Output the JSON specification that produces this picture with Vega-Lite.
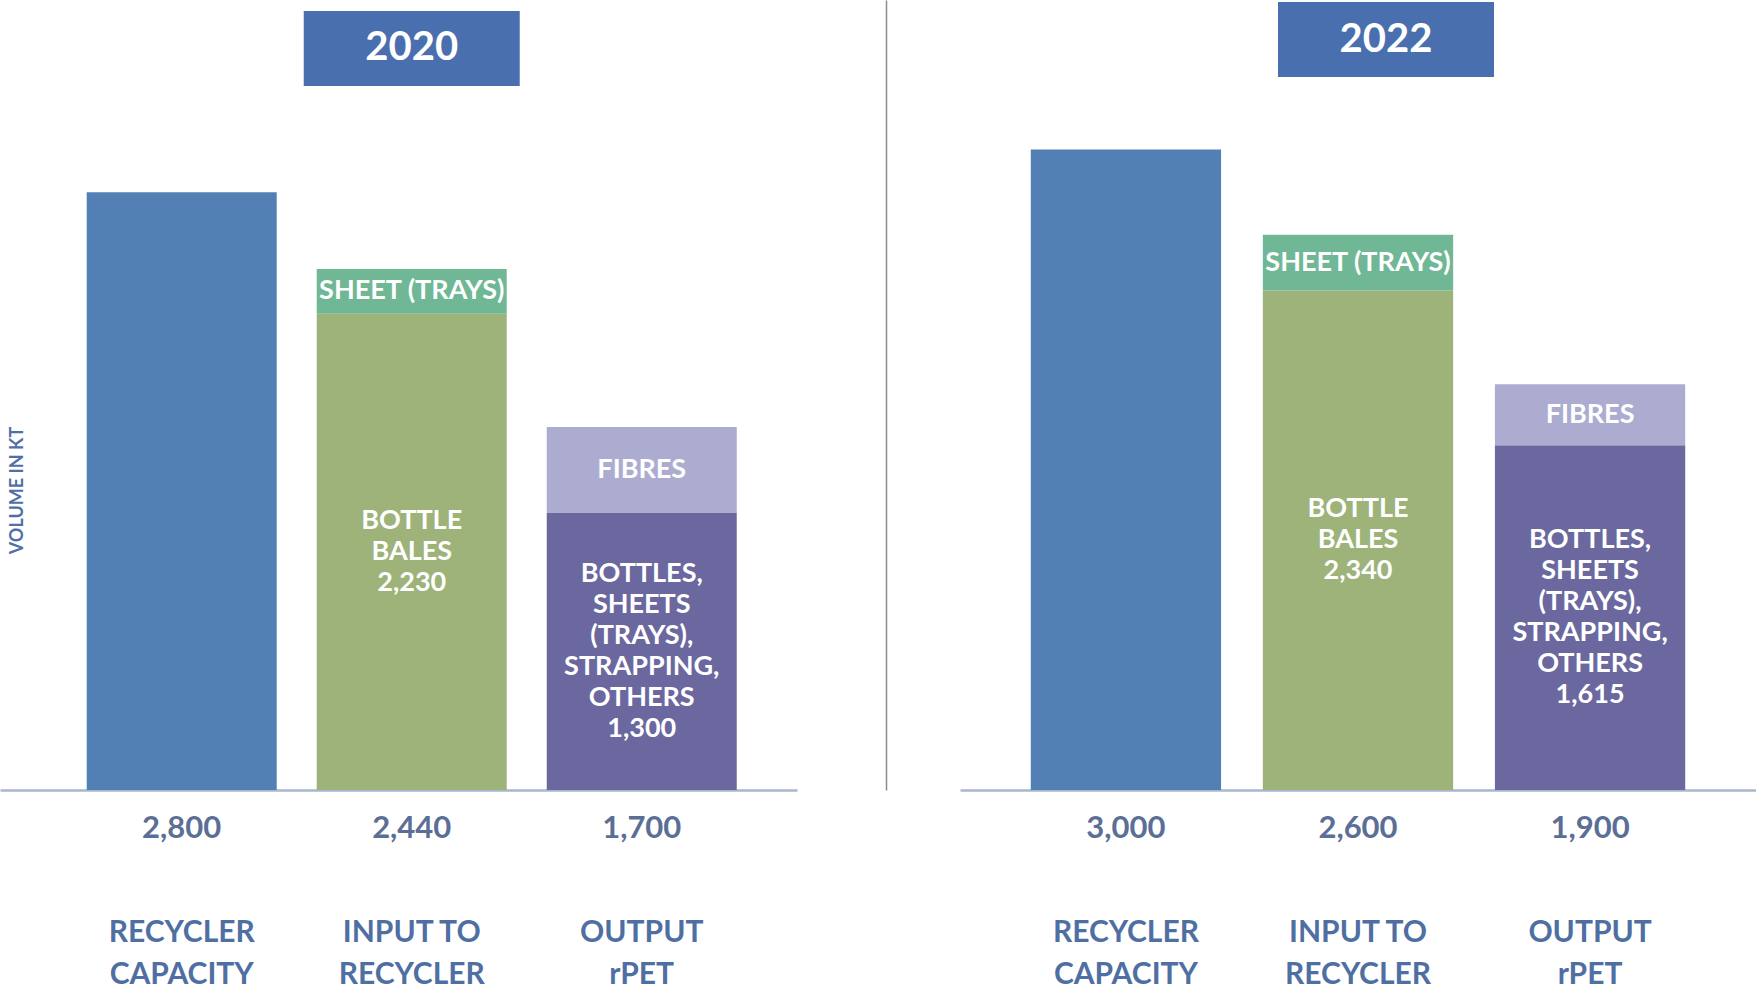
{
  "$schema": "https://vega.github.io/schema/vega-lite/v6.json",
  "background": "white",
  "padding": 0,
  "bounds": "flush",
  "spacing": 163,
  "config": {"view": {"stroke": null}, "font": "Lato", "axis": {"grid": false}},
  "datasets": {
    "pet": [
      {"year": 2020, "category": "RECYCLER CAPACITY", "segment": "Capacity", "value": 2800, "label": ""},
      {"year": 2020, "category": "INPUT TO RECYCLER", "segment": "Bottle bales", "value": 2230, "label": "BOTTLE\nBALES\n2,230"},
      {"year": 2020, "category": "INPUT TO RECYCLER", "segment": "Sheet (trays)", "value": 210, "label": "SHEET (TRAYS)"},
      {"year": 2020, "category": "OUTPUT rPET", "segment": "Bottles, sheets (trays), strapping, others", "value": 1300, "label": "BOTTLES,\nSHEETS\n(TRAYS),\nSTRAPPING,\nOTHERS\n1,300"},
      {"year": 2020, "category": "OUTPUT rPET", "segment": "Fibres", "value": 400, "label": "FIBRES"},
      {"year": 2022, "category": "RECYCLER CAPACITY", "segment": "Capacity", "value": 3000, "label": ""},
      {"year": 2022, "category": "INPUT TO RECYCLER", "segment": "Bottle bales", "value": 2340, "label": "BOTTLE\nBALES\n2,340"},
      {"year": 2022, "category": "INPUT TO RECYCLER", "segment": "Sheet (trays)", "value": 260, "label": "SHEET (TRAYS)"},
      {"year": 2022, "category": "OUTPUT rPET", "segment": "Bottles, sheets (trays), strapping, others", "value": 1615, "label": "BOTTLES,\nSHEETS\n(TRAYS),\nSTRAPPING,\nOTHERS\n1,615"},
      {"year": 2022, "category": "OUTPUT rPET", "segment": "Fibres", "value": 285, "label": "FIBRES"}
    ]
  },
  "hconcat": [
    {
      "width": 797,
      "height": 790,
      "data": {"name": "pet"},
      "transform": [{"filter": "datum.year == 2020"}],
      "encoding": {
        "x": {
          "field": "category", "type": "nominal",
          "sort": ["RECYCLER CAPACITY", "INPUT TO RECYCLER", "OUTPUT rPET"],
          "scale": {"paddingInner": 0.174, "paddingOuter": 0.3195, "align": 0.59},
          "axis": {
            "title": null, "domain": true, "domainColor": "#a7b7cd", "domainWidth": 2.5,
            "ticks": false, "tickSize": 0, "labelPadding": 127, "labelAngle": 0,
            "labelFont": "Lato", "labelFontSize": 30, "labelFontWeight": "bold", "labelColor": "#4f6fa3",
            "labelLineHeight": 42,
            "labelExpr": "datum.label == 'INPUT TO RECYCLER' ? ['INPUT TO', 'RECYCLER'] : split(datum.label, ' ')"
          }
        }
      },
      "layer": [
        {
          "transform": [{"stack": "value", "groupby": ["category"], "sort": [{"field": "segment"}], "as": ["y0", "y1"]}],
          "mark": {"type": "bar"},
          "encoding": {
            "y": {
              "field": "y1", "type": "quantitative",
              "scale": {"domain": [0, 3700], "nice": false, "zero": true},
              "axis": {
                "title": "VOLUME IN KT", "domain": false, "ticks": false, "labels": false, "grid": false,
                "titleX": 17, "titleY": 490, "titleAngle": -90, "titleAlign": "center", "titleBaseline": "middle",
                "titleFont": "Lato", "titleFontSize": 18, "titleFontWeight": "bold", "titleColor": "#4f6fa6"
              }
            },
            "y2": {"field": "y0"},
            "color": {
              "field": "segment", "type": "nominal",
              "scale": {
                "domain": ["Capacity", "Bottle bales", "Sheet (trays)", "Bottles, sheets (trays), strapping, others", "Fibres"],
                "range": ["#527fb4", "#9db37a", "#6fb795", "#6b68a0", "#abacd0"]
              },
              "legend": null
            }
          }
        },
        {
          "transform": [
            {"stack": "value", "groupby": ["category"], "sort": [{"field": "segment"}], "as": ["y0", "y1"]},
            {"calculate": "(datum.y0 + datum.y1) / 2 + (length(split(datum.label, '\\n')) - 1) * 31 * 3700 / 790 / 2", "as": "ytext"}
          ],
          "mark": {"type": "text", "font": "Lato", "fontSize": 27, "fontWeight": "bold", "color": "#ffffff", "lineBreak": "\n", "lineHeight": 31, "align": "center", "baseline": "middle"},
          "encoding": {
            "y": {"field": "ytext", "type": "quantitative"},
            "text": {"field": "label"}
          }
        },
        {
          "transform": [{"aggregate": [{"op": "sum", "field": "value", "as": "total"}], "groupby": ["category"]}],
          "mark": {"type": "text", "font": "Lato", "fontSize": 31, "fontWeight": "bold", "color": "#5b6e96", "dy": 39, "align": "center", "baseline": "middle"},
          "encoding": {
            "y": {"datum": 0},
            "text": {"field": "total", "type": "quantitative", "format": ","}
          }
        },
        {
          "transform": [{"filter": "datum.segment == 'Capacity'"}],
          "mark": {"type": "bar", "width": 216, "color": "#4a6fae"},
          "encoding": {
            "x": {"datum": "INPUT TO RECYCLER"},
            "y": {"datum": 3297},
            "y2": {"datum": 3649}
          }
        },
        {
          "transform": [{"filter": "datum.segment == 'Capacity'"}],
          "mark": {"type": "text", "font": "Lato", "fontSize": 40, "fontWeight": "bold", "color": "#ffffff", "align": "center", "baseline": "middle"},
          "encoding": {
            "x": {"datum": "INPUT TO RECYCLER"},
            "y": {"datum": 3473},
            "text": {"field": "year", "type": "nominal"}
          }
        }
      ]
    },
    {
      "width": 796,
      "height": 790,
      "data": {"name": "pet"},
      "transform": [{"filter": "datum.year == 2022"}],
      "encoding": {
        "x": {
          "field": "category", "type": "nominal",
          "sort": ["RECYCLER CAPACITY", "INPUT TO RECYCLER", "OUTPUT rPET"],
          "scale": {"paddingInner": 0.18, "paddingOuter": 0.305},
          "axis": {
            "title": null, "domain": true, "domainColor": "#a7b7cd", "domainWidth": 2.5,
            "ticks": false, "tickSize": 0, "labelPadding": 127, "labelAngle": 0,
            "labelFont": "Lato", "labelFontSize": 30, "labelFontWeight": "bold", "labelColor": "#4f6fa3",
            "labelLineHeight": 42,
            "labelExpr": "datum.label == 'INPUT TO RECYCLER' ? ['INPUT TO', 'RECYCLER'] : split(datum.label, ' ')"
          }
        }
      },
      "layer": [
        {
          "transform": [{"stack": "value", "groupby": ["category"], "sort": [{"field": "segment"}], "as": ["y0", "y1"]}],
          "mark": {"type": "bar"},
          "encoding": {
            "y": {
              "field": "y1", "type": "quantitative",
              "scale": {"domain": [0, 3700], "nice": false, "zero": true},
              "axis": {
                "title": null, "domain": true, "domainColor": "#8a8a8a", "domainWidth": 1.5,
                "ticks": false, "labels": false, "grid": false, "offset": 74
              }
            },
            "y2": {"field": "y0"},
            "color": {
              "field": "segment", "type": "nominal",
              "scale": {
                "domain": ["Capacity", "Bottle bales", "Sheet (trays)", "Bottles, sheets (trays), strapping, others", "Fibres"],
                "range": ["#527fb4", "#9db37a", "#6fb795", "#6b68a0", "#abacd0"]
              },
              "legend": null
            }
          }
        },
        {
          "transform": [
            {"stack": "value", "groupby": ["category"], "sort": [{"field": "segment"}], "as": ["y0", "y1"]},
            {"calculate": "(datum.y0 + datum.y1) / 2 + (length(split(datum.label, '\\n')) - 1) * 31 * 3700 / 790 / 2", "as": "ytext"}
          ],
          "mark": {"type": "text", "font": "Lato", "fontSize": 27, "fontWeight": "bold", "color": "#ffffff", "lineBreak": "\n", "lineHeight": 31, "align": "center", "baseline": "middle"},
          "encoding": {
            "y": {"field": "ytext", "type": "quantitative"},
            "text": {"field": "label"}
          }
        },
        {
          "transform": [{"aggregate": [{"op": "sum", "field": "value", "as": "total"}], "groupby": ["category"]}],
          "mark": {"type": "text", "font": "Lato", "fontSize": 31, "fontWeight": "bold", "color": "#5b6e96", "dy": 39, "align": "center", "baseline": "middle"},
          "encoding": {
            "y": {"datum": 0},
            "text": {"field": "total", "type": "quantitative", "format": ","}
          }
        },
        {
          "transform": [{"filter": "datum.segment == 'Capacity'"}],
          "mark": {"type": "bar", "width": 216, "color": "#4a6fae", "xOffset": 28},
          "encoding": {
            "x": {"datum": "INPUT TO RECYCLER"},
            "y": {"datum": 3339},
            "y2": {"datum": 3691}
          }
        },
        {
          "transform": [{"filter": "datum.segment == 'Capacity'"}],
          "mark": {"type": "text", "font": "Lato", "fontSize": 40, "fontWeight": "bold", "color": "#ffffff", "align": "center", "baseline": "middle", "xOffset": 28},
          "encoding": {
            "x": {"datum": "INPUT TO RECYCLER"},
            "y": {"datum": 3515},
            "text": {"field": "year", "type": "nominal"}
          }
        }
      ]
    }
  ]
}
